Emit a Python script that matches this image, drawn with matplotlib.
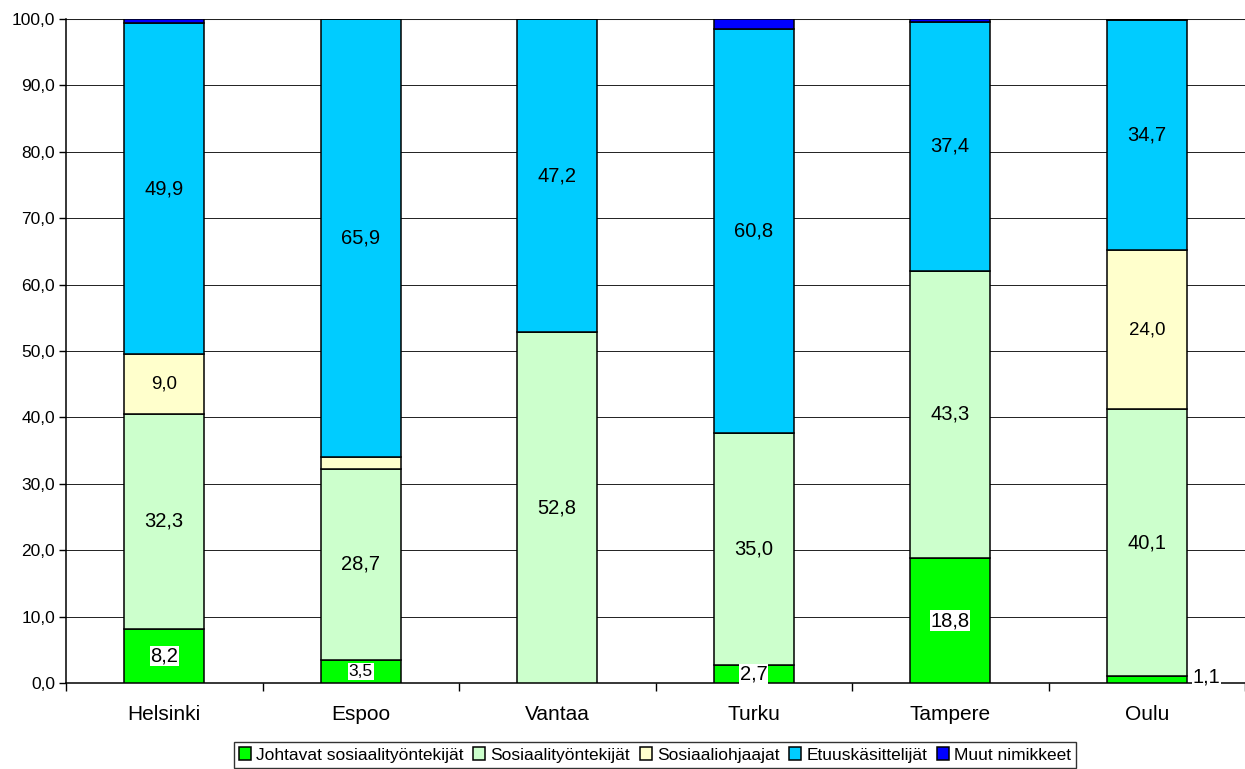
import matplotlib
matplotlib.use("Agg")
import matplotlib.pyplot as plt
from matplotlib.ticker import FixedLocator, FuncFormatter
import numpy as np

plt.rcParams["font.family"] = ["Liberation Sans", "DejaVu Sans"]

CITIES = ["Helsinki", "Espoo", "Vantaa", "Turku", "Tampere", "Oulu"]
SERIES = ["Johtavat sosiaalityöntekijät", "Sosiaalityöntekijät",
          "Sosiaaliohjaajat", "Etuuskäsittelijät", "Muut nimikkeet"]

JOHTAVAT = [8.2, 3.5, 0.0, 2.7, 18.8, 1.1]
SOSTYO = [32.3, 28.7, 52.8, 35.0, 43.3, 40.1]
OHJAAJAT = [9.0, 1.9, 0.0, 0.0, 0.0, 24.0]
ETUUS = [49.9, 65.9, 47.2, 60.8, 37.4, 34.7]
MUUT = [0.6, 0.0, 0.0, 1.5, 0.5, 0.1]

COLORS = ["#00FF00", "#CCFFCC", "#FFFFCC", "#00CCFF", "#0000FF"]


def fmt(v):
    return f"{v:.1f}".replace(".", ",")


fig = plt.figure(figsize=(12.45, 7.69), dpi=100)
ax = fig.add_axes([66 / 1245, 1 - 683 / 769, 1179 / 1245, 664 / 769])

x = np.arange(len(CITIES))
width = 0.406
data = [JOHTAVAT, SOSTYO, OHJAAJAT, ETUUS, MUUT]
bottom = np.zeros(len(CITIES))
for vals, color, name in zip(data, COLORS, SERIES):
    vals = np.array(vals)
    ax.bar(x, vals, width, bottom=bottom, color=color, edgecolor="black",
           linewidth=1.1, label=name, zorder=3)
    bottom += vals

# value labels (Muut and tiny segments are not labelled)
white_box = dict(facecolor="white", edgecolor="none", pad=0.5)
bottom = np.zeros(len(CITIES))
for si, vals in enumerate(data):
    for i, v in enumerate(vals):
        mid = bottom[i] + v / 2
        if si == 0 and v > 0:
            if CITIES[i] == "Oulu":
                ax.text(x[i] + width / 2 + 0.03, bottom[i] + 0.9, fmt(v), ha="left",
                        va="center", fontsize=14.5, bbox=white_box, zorder=5)
            else:
                fs = 12.5 if CITIES[i] == "Espoo" else 14.5
                ax.text(x[i], mid, fmt(v), ha="center", va="center", fontsize=fs,
                        bbox=white_box, zorder=5)
        elif si in (1, 3) and v > 0:
            ax.text(x[i], mid, fmt(v), ha="center", va="center", fontsize=14.5, zorder=5)
        elif si == 2 and v > 5:
            ax.text(x[i], mid, fmt(v), ha="center", va="center", fontsize=13.5, zorder=5)
    bottom += np.array(vals)

ax.set_xlim(-0.5, len(CITIES) - 0.5)
ax.set_ylim(0, 100)
ax.yaxis.set_major_locator(FixedLocator(np.arange(0, 101, 10)))
ax.yaxis.set_major_formatter(FuncFormatter(lambda v, p: fmt(v)))
ax.yaxis.grid(True, color="#202020", linewidth=0.7, zorder=0)
ax.tick_params(axis="y", direction="out", length=5, width=1, labelsize=12.5, pad=3)

ax.set_xticks(x)
ax.set_xticklabels(CITIES, fontsize=15)
ax.tick_params(axis="x", which="major", length=0, pad=16)
ax.xaxis.set_minor_locator(FixedLocator(np.arange(-0.5, len(CITIES), 1.0)))
ax.tick_params(axis="x", which="minor", direction="out", length=6, width=1)

for side in ["top", "right"]:
    ax.spines[side].set_visible(False)
ax.spines["left"].set_linewidth(1.1)
ax.spines["bottom"].set_linewidth(1.1)
ax.axhline(100, color="#808080", linewidth=1.5, zorder=1)

leg = fig.legend(loc="center", bbox_to_anchor=(655 / 1245, 1 - 755 / 769), ncol=5,
                 fontsize=12.5, frameon=True, fancybox=False, edgecolor="black",
                 handlelength=0.7, handleheight=0.7, handletextpad=0.3,
                 columnspacing=0.55, borderpad=0.3, borderaxespad=0)
leg.get_frame().set_linewidth(1.0)

fig.savefig("out.png", dpi=100, facecolor="white")
